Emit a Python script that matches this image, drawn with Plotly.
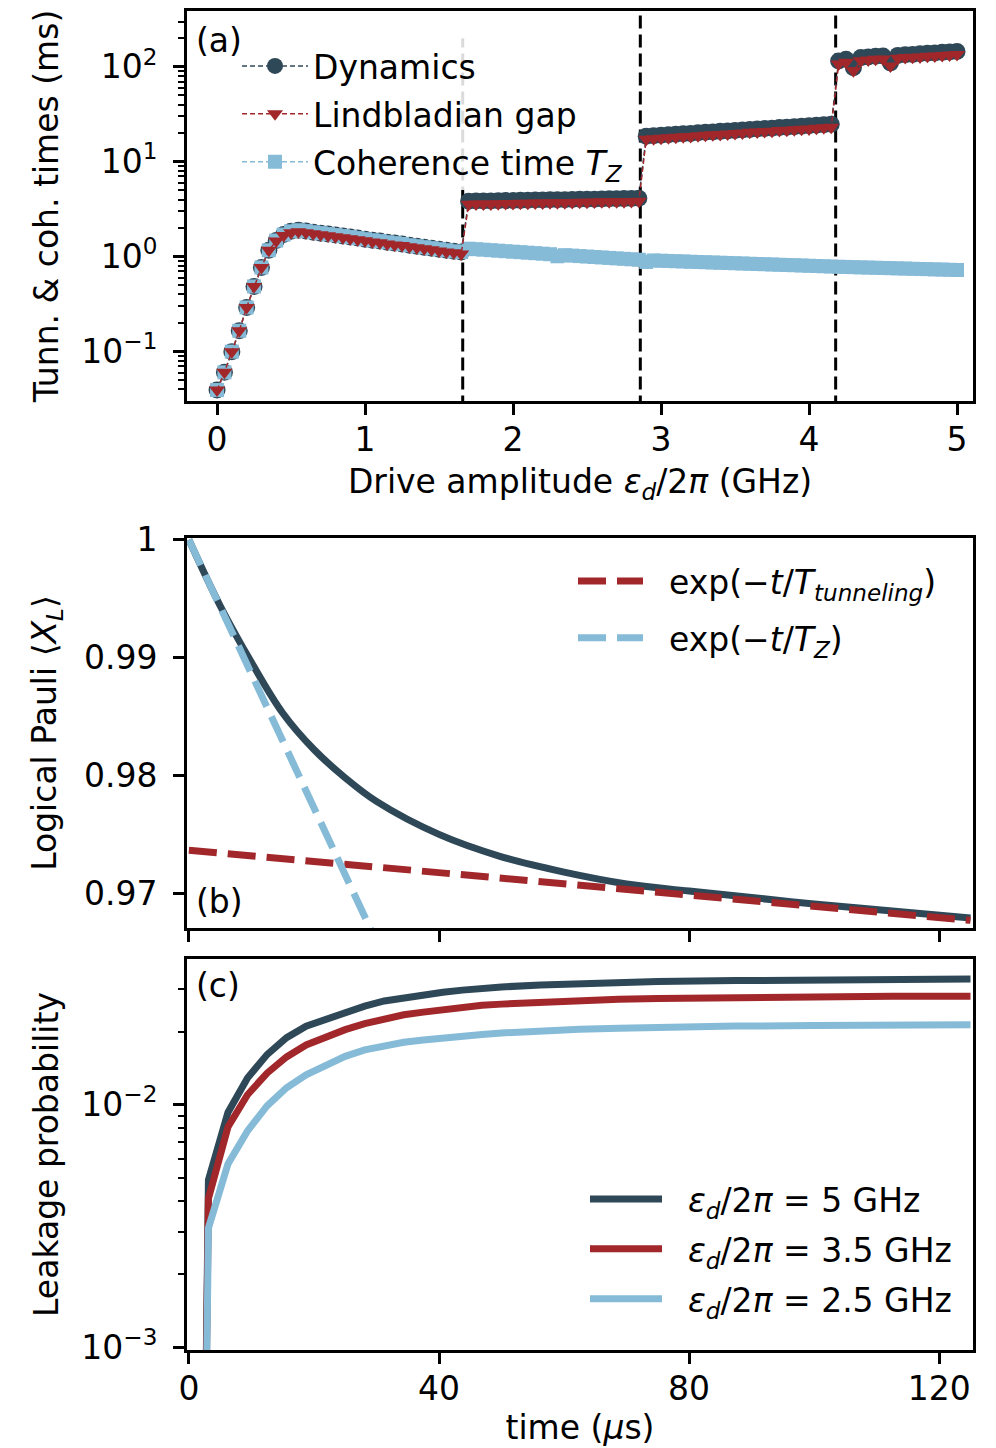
import plotly.graph_objects as go

# ---------------- data: panel (a) ----------------
drive_amp = [0.00, 0.05, 0.10, 0.15, 0.20, 0.25, 0.30, 0.35, 0.40, 0.45,
             0.50, 0.55, 0.60, 0.65, 0.70, 0.75, 0.80, 0.85, 0.90, 0.95,
             1.00, 1.05, 1.10, 1.15, 1.20, 1.25, 1.30, 1.35, 1.40, 1.45,
             1.50, 1.55, 1.60, 1.65, 1.70, 1.75, 1.80, 1.85, 1.90, 1.95,
             2.00, 2.05, 2.10, 2.15, 2.20, 2.25, 2.30, 2.35, 2.40, 2.45,
             2.50, 2.55, 2.60, 2.65, 2.70, 2.75, 2.80, 2.85, 2.90, 2.95,
             3.00, 3.05, 3.10, 3.15, 3.20, 3.25, 3.30, 3.35, 3.40, 3.45,
             3.50, 3.55, 3.60, 3.65, 3.70, 3.75, 3.80, 3.85, 3.90, 3.95,
             4.00, 4.05, 4.10, 4.15, 4.20, 4.25, 4.30, 4.35, 4.40, 4.45,
             4.50, 4.55, 4.60, 4.65, 4.70, 4.75, 4.80, 4.85, 4.90, 4.95, 5.00]

dynamics = [0.0394, 0.0605, 0.100, 0.166, 0.292, 0.486, 0.771, 1.17, 1.48, 1.71,
            1.85, 1.90, 1.86, 1.81, 1.77, 1.73, 1.69, 1.65, 1.61, 1.57,
            1.53, 1.49, 1.46, 1.42, 1.39, 1.36, 1.32, 1.29, 1.26, 1.23,
            1.20, 1.17, 1.14, 1.12, 3.84, 3.85, 3.86, 3.87, 3.89, 3.90,
            3.91, 3.92, 3.93, 3.95, 3.96, 3.97, 3.98, 3.99, 4.01, 4.02,
            4.03, 4.04, 4.06, 4.07, 4.08, 4.09, 4.11, 4.12, 18.6, 18.8,
            19.0, 19.3, 19.5, 19.7, 19.9, 20.2, 20.4, 20.6, 20.9, 21.1,
            21.4, 21.6, 21.9, 22.1, 22.4, 22.6, 22.9, 23.1, 23.4, 23.7,
            23.9, 24.2, 24.5, 24.8, 115, 120, 98, 125, 127, 129,
            130, 110, 132, 134, 135, 137, 139, 140, 142, 143, 145]

lindblad_gap = [0.0394, 0.0605, 0.100, 0.166, 0.292, 0.486, 0.771, 1.17, 1.46, 1.67,
                1.79, 1.83, 1.79, 1.74, 1.70, 1.66, 1.62, 1.58, 1.55, 1.51,
                1.47, 1.43, 1.40, 1.36, 1.33, 1.31, 1.27, 1.24, 1.21, 1.18,
                1.15, 1.12, 1.10, 1.07, 3.57, 3.58, 3.59, 3.60, 3.62, 3.63,
                3.64, 3.65, 3.65, 3.67, 3.68, 3.69, 3.70, 3.71, 3.73, 3.74,
                3.75, 3.76, 3.78, 3.79, 3.79, 3.80, 3.82, 3.83, 17.3, 17.5,
                17.7, 17.9, 18.1, 18.3, 18.5, 18.8, 19.0, 19.2, 19.4, 19.6,
                19.9, 20.1, 20.4, 20.6, 20.8, 21.0, 21.3, 21.5, 21.8, 22.0,
                22.2, 22.5, 22.8, 23.1, 107, 112, 91, 116, 118, 120,
                121, 102, 123, 125, 126, 127, 129, 130, 132, 133, 135]

coherence_tz = [0.0394, 0.0605, 0.100, 0.166, 0.292, 0.486, 0.771, 1.17, 1.48, 1.71,
                1.85, 1.90, 1.86, 1.81, 1.77, 1.73, 1.69, 1.65, 1.61, 1.57,
                1.53, 1.49, 1.46, 1.42, 1.39, 1.36, 1.32, 1.29, 1.26, 1.23,
                1.20, 1.17, 1.14, 1.12, 1.215, 1.200, 1.186, 1.171, 1.157, 1.143,
                1.129, 1.116, 1.102, 1.089, 1.076, 1.062, 1.010, 1.038, 1.027, 1.015,
                1.004, 0.993, 0.982, 0.971, 0.960, 0.950, 0.939, 0.929, 0.880, 0.913,
                0.907, 0.902, 0.896, 0.891, 0.885, 0.880, 0.875, 0.869, 0.864, 0.859,
                0.853, 0.848, 0.843, 0.838, 0.833, 0.828, 0.823, 0.818, 0.813, 0.808,
                0.803, 0.798, 0.793, 0.788, 0.783, 0.780, 0.776, 0.772, 0.768, 0.765,
                0.761, 0.757, 0.753, 0.750, 0.746, 0.742, 0.739, 0.735, 0.732, 0.728, 0.724]

thresholds = [1.66, 2.86, 4.18]          # drive amplitudes of the jumps
threshold_top = [200, 1000, 1000]        # upper end of each vertical marker line (ms)

# ---------------- data: panel (b) ----------------
t_b = [0, 5, 10, 15, 20, 25, 30, 40, 50, 60, 70, 80, 100, 125]
pauli_x = [1.0, 0.9944, 0.9896, 0.9853, 0.9822, 0.9798, 0.9778, 0.9750,
           0.9731, 0.9718, 0.9708, 0.9702, 0.9691, 0.9679]
t_tunnel = [0, 62.5, 125]
exp_tunnel = [0.97366, 0.97068, 0.96771]
t_tz = [0, 15, 30]
exp_tz = [1.0, 0.98295, 0.96589]

# ---------------- data: panel (c) ----------------
t_c = [0, 3.125, 6.25, 9.375, 12.5, 15.625, 18.75, 21.875, 25, 28.125,
       31.25, 34.375, 37.5, 40.625, 43.75, 46.875, 50, 56.25, 62.5, 68.75,
       75, 87.5, 100, 112.5, 125]
ZERO = 1e-9   # leakage is zero at t = 0 (log axis needs a positive value)
leak_5 = [ZERO, 4.9e-3, 9.3e-3, 0.0129, 0.0161, 0.0189, 0.0211, 0.0226, 0.0241, 0.0255,
          0.0268, 0.0277, 0.0284, 0.0291, 0.0297, 0.0302, 0.0306, 0.0312, 0.0316, 0.0319,
          0.0322, 0.0325, 0.0327, 0.0329, 0.0330]
leak_35 = [ZERO, 4.1e-3, 8.1e-3, 0.0110, 0.01350, 0.01575, 0.01765, 0.01905, 0.0204, 0.0216,
           0.0227, 0.0235, 0.0241, 0.0247, 0.0253, 0.0257, 0.0260, 0.0265, 0.0269, 0.0272,
           0.0274, 0.0277, 0.0279, 0.0280, 0.0280]
leak_25 = [ZERO, 3.1e-3, 5.7e-3, 7.8e-3, 9.9e-3, 0.01175, 0.01328, 0.01461, 0.01584, 0.01683,
           0.0175, 0.0181, 0.0185, 0.0189, 0.0192, 0.0195, 0.01977, 0.0202, 0.0205, 0.0207,
           0.0209, 0.0211, 0.0212, 0.0213, 0.0214]

# ---------------- styling ----------------
FONT = "DejaVu Sans"
FS = 33
DARK = "#2F4858"
RED = "#A1272A"
LIGHT = "#86BBD8"
W, H = 996, 1448
ML, MR, MT, MB = 187, 23, 11, 98
PW, PH = W - ML - MR, H - MT - MB
NB = "\u00a0"


def px_to_px(px):   # figure px -> paper x
    return (px - ML) / PW


def py_to_py(py):   # figure px -> paper y
    return (H - MB - py) / PH


def ydom(top, bot):
    return [py_to_py(bot), py_to_py(top)]


fig = go.Figure()

# panel (a)
for xv, ytop in zip(thresholds, threshold_top):
    fig.add_trace(go.Scatter(x=[xv, xv], y=[0.001, ytop], mode="lines",
                             line=dict(color="black", width=3, dash="13px,6px"),
                             showlegend=False, hoverinfo="skip", xaxis="x", yaxis="y"))

fig.add_trace(go.Scatter(x=drive_amp, y=dynamics, mode="lines+markers", name="Dynamics",
                         line=dict(color=DARK, width=1.5, dash="5px,3px"),
                         marker=dict(symbol="circle", size=17, color=DARK),
                         legend="legend", legendgroup="a1", legendrank=1,
                         xaxis="x", yaxis="y"))
fig.add_trace(go.Scatter(x=drive_amp, y=coherence_tz, mode="lines+markers",
                         name="Coherence time <i>T</i><sub><i>Z</i></sub>",
                         line=dict(color=LIGHT, width=1.5, dash="5px,3px"),
                         marker=dict(symbol="square", size=14, color=LIGHT),
                         legend="legend", legendgroup="a3", legendrank=3,
                         xaxis="x", yaxis="y"))
fig.add_trace(go.Scatter(x=drive_amp, y=lindblad_gap, mode="lines+markers", name="Lindbladian gap",
                         line=dict(color=RED, width=1.5, dash="5px,3px"),
                         marker=dict(symbol="triangle-down", size=14, color=RED),
                         legend="legend", legendgroup="a2", legendrank=2,
                         xaxis="x", yaxis="y"))

# panel (b)
fig.add_trace(go.Scatter(x=t_b, y=pauli_x, mode="lines", line=dict(color=DARK, width=7, shape="spline"),
                         showlegend=False, xaxis="x2", yaxis="y2"))
fig.add_trace(go.Scatter(x=t_tunnel, y=exp_tunnel, mode="lines",
                         name=NB + NB + "exp(−<i>t</i>/<i>T</i><sub><i>tunneling</i></sub>)",
                         line=dict(color=RED, width=7, dash="28px,11px"),
                         legend="legend2", legendgroup="b1", xaxis="x2", yaxis="y2"))
fig.add_trace(go.Scatter(x=t_tz, y=exp_tz, mode="lines",
                         name=NB + NB + "exp(−<i>t</i>/<i>T</i><sub><i>Z</i></sub>)",
                         line=dict(color=LIGHT, width=7, dash="28px,11px"),
                         legend="legend2", legendgroup="b2", xaxis="x2", yaxis="y2"))

# panel (c)
for vals, col, lab, g in [(leak_5, DARK, "5", "c1"), (leak_35, RED, "3.5", "c2"), (leak_25, LIGHT, "2.5", "c3")]:
    fig.add_trace(go.Scatter(x=t_c, y=vals, mode="lines",
                             name=NB + NB + "<i>ε</i><sub><i>d</i></sub>/2<i>π</i> = " + lab + " GHz",
                             line=dict(color=col, width=7),
                             legend="legend3", legendgroup=g, xaxis="x3", yaxis="y3"))

tickfont = dict(family=FONT, size=FS, color="black")
common = dict(showline=True, linecolor="black", linewidth=3, mirror=True,
              ticks="outside", ticklen=11, tickwidth=2.5, tickcolor="black",
              showgrid=False, zeroline=False, tickfont=tickfont, automargin=False)


def sup(e):
    return "10<sup>" + e + "</sup>"


fig.update_layout(
    width=W, height=H,
    margin=dict(l=ML, r=MR, t=MT, b=MB),
    paper_bgcolor="white", plot_bgcolor="white",
    font=dict(family=FONT, size=FS, color="black"),
    xaxis=dict(common, domain=[0, 1], anchor="y", range=[-0.203, 5.108],
               tickvals=[0, 1, 2, 3, 4, 5], ticklabelstandoff=-4,
               title=dict(text="Drive amplitude <i>ε</i><sub><i>d</i></sub>/2<i>π</i> (GHz)",
                          font=dict(family=FONT, size=FS), standoff=13)),
    yaxis=dict(common, domain=ydom(11, 401), anchor="x", type="log", range=[-1.52, 2.588],
               tickvals=[0.1, 1, 10, 100], ticktext=[sup("−1"), sup("0"), sup("1"), sup("2")],
               ticklabelstandoff=9,
               minor=dict(ticks="outside", ticklen=6, tickwidth=1.5, tickcolor="black",
                          tickvals=[0.04, 0.05, 0.06, 0.07, 0.08, 0.09,
                                    0.2, 0.3, 0.4, 0.5, 0.6, 0.7, 0.8, 0.9,
                                    2, 3, 4, 5, 6, 7, 8, 9,
                                    20, 30, 40, 50, 60, 70, 80, 90, 200, 300]),
               title=dict(text="Tunn. &amp; coh. times (ms)", font=dict(family=FONT, size=FS), standoff=13)),
    xaxis2=dict(common, domain=[0, 1], anchor="y2", range=[-0.3, 125.4],
                tickvals=[0, 40, 80, 120], showticklabels=False),
    yaxis2=dict(common, domain=ydom(538, 928), anchor="x2", range=[0.96706, 1.00015],
                tickvals=[0.97, 0.98, 0.99, 1.0], ticktext=["0.97", "0.98", "0.99", "1"],
                ticklabelstandoff=9,
                title=dict(text="Logical Pauli ⟨<i>X</i><sub><i>L</i></sub>⟩",
                           font=dict(family=FONT, size=FS), standoff=18)),
    xaxis3=dict(common, domain=[0, 1], anchor="y3", range=[-0.3, 125.4],
                tickvals=[0, 40, 80, 120], ticklabelstandoff=-4,
                title=dict(text="time (<i>μ</i>s)", font=dict(family=FONT, size=FS), standoff=10)),
    yaxis3=dict(common, domain=ydom(959, 1350), anchor="x3", type="log", range=[-3.011, -1.399],
                tickvals=[0.001, 0.01], ticktext=[sup("−3"), sup("−2")],
                ticklabelstandoff=9,
                minor=dict(ticks="outside", ticklen=6, tickwidth=1.5, tickcolor="black",
                           tickvals=[0.002, 0.003, 0.004, 0.005, 0.006, 0.007, 0.008, 0.009,
                                     0.02, 0.03, 0.04]),
                title=dict(text="Leakage probability", font=dict(family=FONT, size=FS), standoff=13)),
    legend=dict(x=px_to_px(237), y=py_to_py(38), xanchor="left", yanchor="top",
                bgcolor="rgba(255,255,255,0.86)", borderwidth=0,
                font=dict(family=FONT, size=FS), itemwidth=66, tracegroupgap=2),
    legend2=dict(x=px_to_px(573), y=py_to_py(553), xanchor="left", yanchor="top",
                 bgcolor="rgba(255,255,255,0)", borderwidth=0,
                 font=dict(family=FONT, size=FS), itemwidth=65, tracegroupgap=11),
    legend3=dict(x=px_to_px(585), y=py_to_py(1171), xanchor="left", yanchor="top",
                 bgcolor="rgba(255,255,255,0)", borderwidth=0,
                 font=dict(family=FONT, size=FS), itemwidth=72, tracegroupgap=4),
    annotations=[
        dict(text="(a)", x=px_to_px(194), y=py_to_py(40), xref="paper", yref="paper",
             xanchor="left", yanchor="middle", showarrow=False, font=dict(family=FONT, size=FS)),
        dict(text="(b)", x=px_to_px(194), y=py_to_py(901), xref="paper", yref="paper",
             xanchor="left", yanchor="middle", showarrow=False, font=dict(family=FONT, size=FS)),
        dict(text="(c)", x=px_to_px(194), y=py_to_py(985), xref="paper", yref="paper",
             xanchor="left", yanchor="middle", showarrow=False, font=dict(family=FONT, size=FS)),
    ],
    showlegend=True,
)

fig.write_html("out.html", config={"displayModeBar": False},
               post_script="document.body.style.margin='0px';")
